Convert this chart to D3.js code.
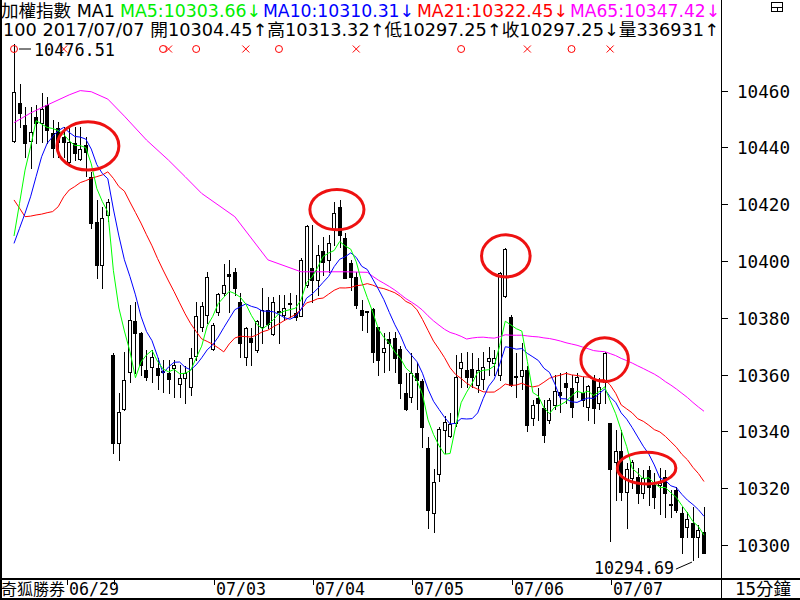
<!DOCTYPE html>
<html><head><meta charset="utf-8">
<script src="https://cdn.jsdelivr.net/npm/d3@7"></script>
<style>
body{margin:0;background:#fff}
svg{display:block}
text{font-family:"DejaVu Sans Mono","Noto Sans CJK TC",monospace;white-space:pre}
text.hdr{font-family:"DejaVu Sans","Noto Sans CJK TC",sans-serif}
</style>
</head><body>
<svg id="c" width="800" height="600"></svg>
<script>
// ---------- data (15-minute bars, 2017/06/29 - 2017/07/07) ----------
const opens = [
10442.3,10455.7,10447.9,10442.3,10450.8,10448.7,10454.9,10445.2,10446.9,10443.6,
10435.0,10441.4,10435.9,10440.8,10429.7,10413.8,10398.6,10416.2,10366.9,10335.8,
10347.8,10361.0,10378.9,10374.5,10361.6,10362.6,10362.2,10361.2,10360.5,10362.2,
10356.6,10358.7,10355.5,10366.5,10376.6,10381.0,10368.9,10382.2,10388.8,10395.3,
10396.0,10385.7,10366.3,10372.8,10368.7,10376.9,10382.7,10374.3,10382.5,10381.0,
10385.3,10381.6,10380.8,10391.5,10397.4,10393.3,10403.5,10400.4,10411.2,10419.1,
10408.0,10399.2,10394.5,10382.7,10382.3,10383.0,10376.7,10368.1,10372.4,10372.8,
10368.9,10353.4,10352.2,10360.5,10357.7,10334.0,10311.2,10324.9,10340.5,10338.4,
10342.9,10362.2,10361.5,10361.9,10356.3,10358.4,10364.9,10364.0,10359.9,10387.7,
10380.4,10359.5,10359.5,10361.6,10344.6,10351.6,10348.1,10344.0,10349.3,10354.0,
10356.9,10355.2,10357.5,10353.4,10348.5,10358.1,10349.9,10357.5,10342.9,10329.3,
10333.1,10318.5,10323.7,10324.0,10318.2,10326.4,10321.1,10321.0,10324.0,10314.3,
10319.4,10311.2,10306.4,10307.6,10302.9,10304.45];
const highs = [
10476.51,10462.3,10454.3,10454.3,10454.9,10459.0,10457.9,10449.6,10449.0,10447.3,
10446.7,10447.3,10447.3,10443.8,10431.4,10421.5,10419.1,10422.0,10367.5,10353.4,
10368.0,10384.5,10385.7,10375.0,10368.7,10368.7,10365.7,10365.1,10365.1,10365.1,
10363.4,10363.0,10369.3,10385.7,10385.5,10396.0,10378.0,10388.6,10398.9,10400.4,
10397.4,10388.6,10376.9,10376.3,10379.2,10390.4,10387.4,10387.4,10388.0,10388.0,
10388.6,10388.0,10400.9,10412.7,10412.7,10405.6,10408.6,10409.2,10420.9,10421.5,
10409.7,10400.4,10396.2,10386.3,10382.5,10383.5,10376.9,10374.5,10375.1,10375.1,
10370.0,10360.5,10367.7,10364.2,10358.5,10338.0,10326.7,10341.7,10345.4,10346.6,
10366.9,10367.5,10367.8,10367.5,10365.7,10368.0,10369.8,10368.7,10396.0,10404.5,
10381.0,10367.5,10371.0,10363.0,10351.1,10355.2,10351.1,10351.6,10359.9,10360.5,
10361.0,10359.9,10360.5,10359.3,10356.3,10359.9,10358.7,10368.0,10343.0,10340.5,
10340.5,10328.8,10330.0,10327.0,10326.4,10327.8,10325.2,10327.0,10326.4,10319.4,
10320.5,10313.5,10311.7,10313.5,10307.0,10313.32];
const lows = [
10441.8,10447.3,10436.7,10432.6,10441.4,10442.0,10441.4,10436.7,10436.7,10436.7,
10434.4,10435.6,10435.6,10430.0,10411.5,10394.1,10390.6,10414.0,10332.3,10329.9,
10347.5,10357.5,10360.5,10359.9,10358.1,10357.5,10354.8,10354.0,10353.4,10352.2,
10352.2,10350.1,10352.8,10365.1,10375.5,10378.0,10368.5,10381.0,10388.0,10382.2,
10388.0,10366.3,10363.4,10363.4,10368.1,10371.0,10376.3,10374.0,10371.0,10379.2,
10380.4,10379.2,10380.5,10391.0,10385.7,10388.0,10395.0,10396.2,10405.6,10405.0,
10394.0,10389.8,10383.3,10375.7,10375.1,10364.5,10360.0,10361.0,10361.6,10361.0,
10351.6,10347.5,10350.5,10347.8,10334.6,10305.9,10304.7,10322.6,10332.3,10338.0,
10342.0,10355.7,10355.7,10355.7,10354.0,10355.0,10360.0,10360.0,10358.0,10387.5,
10356.0,10352.2,10355.0,10340.0,10342.3,10344.0,10336.4,10343.0,10348.0,10347.0,
10350.0,10345.0,10352.0,10349.0,10344.0,10342.9,10348.0,10349.9,10301.5,10315.8,
10315.8,10305.9,10320.0,10314.7,10316.4,10314.1,10312.9,10311.0,10310.0,10310.0,
10311.7,10297.1,10302.9,10294.69,10295.9,10297.25];
const closes = [
10459.4,10452.0,10441.7,10445.5,10448.5,10453.4,10446.1,10439.7,10442.0,10441.9,
10442.0,10437.9,10439.3,10438.5,10413.3,10398.6,10415.0,10420.9,10335.8,10346.9,
10358.1,10379.2,10374.5,10363.4,10359.3,10366.3,10359.9,10361.0,10358.4,10363.4,
10358.9,10360.7,10365.7,10380.6,10384.2,10394.5,10377.5,10388.3,10391.5,10394.8,
10390.6,10371.0,10376.3,10371.6,10379.0,10382.7,10377.8,10385.7,10382.3,10383.3,
10385.3,10380.4,10400.4,10412.3,10393.3,10402.1,10399.8,10406.5,10416.8,10409.2,
10394.1,10394.2,10384.4,10380.9,10382.1,10368.1,10365.1,10369.3,10371.2,10366.0,
10357.1,10347.8,10360.7,10358.1,10341.4,10312.3,10322.1,10340.7,10343.4,10342.6,
10359.3,10364.5,10359.3,10359.3,10361.6,10362.8,10365.7,10365.7,10395.7,10404.1,
10356.3,10359.0,10361.5,10342.3,10349.3,10349.9,10338.7,10351.1,10354.3,10352.8,
10355.7,10348.7,10359.3,10351.1,10356.0,10348.1,10355.5,10367.7,10326.7,10333.2,
10318.8,10326.7,10329.3,10318.4,10323.5,10320.5,10317.0,10322.0,10318.2,10314.1,
10312.3,10302.9,10309.0,10302.9,10305.3,10297.25];

// moving-average values for bars before each average has a full window
const ma5Head  = [10408.8,10420.3,10432.0,10440.2];
const ma10Head = [10406.2,10411.5,10416.8,10422.6,10429.7,10436.7,10441.4,10443.8,10445.9];
const ma21Head = [10421.5,10418.6,10415.6,10415.8,10416.2,10416.5,10417.0,10417.4,10419.1,10422.6,
                  10425.0,10426.2,10427.6,10428.3,10429.1,10429.7,10430.3,10431.4,10429.1,10426.2];
const ma65HeadBars = [0,3,6,10,12,14,17,20,24,28,31,34,40,46,52,60];
const ma65HeadVals = [10448.7,10452.1,10454.9,10458.5,10460.0,10459.6,10457.0,10451.0,10442.6,10435.5,
                      10429.7,10423.8,10415.6,10400.4,10396.2,10396.2];

const dayLabels = ['06/29','06/30','07/03','07/04','07/05','07/06','07/07'];
const dayStartBar = [0,18,36,54,72,90,108];
const yTicks = [10300,10320,10340,10360,10380,10400,10420,10440,10460];

const buyBars  = [0,27,33,48,81,101];
const sellBars = [9,28,42,62,93,108];

// circled areas: centre bar, centre value, radius in bars, radius in points
const circleBar = [13.4,58.5,89.1,107.0,114.6];
const circleVal = [10440.5,10418.1,10401.8,10365.3,10327.1];
const circleRB  = [5.6,4.9,4.4,4.3,5.3];
const circleRV  = [8.5,7.1,7.4,7.7,5.6];

const header1 = [['加權指數 MA1','#000'],['MA5:10303.66↓','#00ee00'],['MA10:10310.31↓','#0000ff'],
                 ['MA21:10322.45↓','#ff0000'],['MA65:10347.42↓','#ff00ff']];
const header2 = '100 2017/07/07 開10304.45↑高10313.32↑低10297.25↑收10297.25↓量336931↑';
const maxLabel = '10476.51', minLabel = '10294.69';
const cornerLabel = '奇狐勝券', periodLabel = '15分鐘';

// ---------- drawing ----------
const svg = d3.select('#c');
const N = closes.length;
const x = d3.scaleBand().domain(d3.range(N)).range([11.24, 11.24 + N*5.52]).padding(0);
const cx = i => x(i) + x.bandwidth()/2;
const bx = b => x(0) + x.bandwidth()*(b + 0.5);   // fractional bar position
const y = d3.scaleLinear().domain([10300,10460]).range([545,90.6]);

const plot = svg.append('g');

// moving averages
function movingAvg(n, head){
  return closes.map((c,i)=> i < n-1 ? head[i] : d3.mean(closes.slice(i-n+1,i+1)));
}
const ma5 = movingAvg(5, ma5Head).map((v,i)=>[i,v]);
const ma10 = movingAvg(10, ma10Head).map((v,i)=>[i,v]);
const ma21 = movingAvg(21, ma21Head).map((v,i)=>[i,v]);
const ma65 = ma65HeadBars.map((b,k)=>[b,ma65HeadVals[k]])
  .concat(d3.range(64,N).map(i=>[i,d3.mean(closes.slice(i-64,i+1))]));
const line = d3.line().x(d=>cx(d[0])).y(d=>y(d[1]));

// candles
const candles = plot.append('g').attr('shape-rendering','crispEdges');
d3.range(N).forEach(i=>{
  const c = Math.round(cx(i));
  const o = opens[i], h = highs[i], l = lows[i], cl = closes[i];
  candles.append('line').attr('x1',c+0.5).attr('x2',c+0.5)
    .attr('y1',Math.round(y(h))).attr('y2',Math.round(y(l))+1)
    .attr('stroke','#000').attr('stroke-width',1);
  const top = Math.round(y(Math.max(o,cl))), bot = Math.round(y(Math.min(o,cl)));
  if (cl >= o) {
    candles.append('rect').attr('x',c-1.5).attr('y',top+0.5).attr('width',3).attr('height',Math.max(bot-top,1))
      .attr('fill','#fff').attr('stroke','#000').attr('stroke-width',1);
  } else {
    candles.append('rect').attr('x',c-2).attr('y',top).attr('width',4).attr('height',Math.max(bot-top,1)+1)
      .attr('fill','#000');
  }
});

[[ma65,'#ff00ff'],[ma21,'#ff0000'],[ma10,'#0000ff'],[ma5,'#00ff00']].forEach(([d,col])=>{
  plot.append('path').datum(d).attr('d',line).attr('fill','none').attr('stroke',col).attr('stroke-width',1);
});

// circled areas
circleBar.forEach((b,k)=>{
  plot.append('ellipse').attr('cx',bx(b)).attr('cy',y(circleVal[k]))
    .attr('rx',circleRB[k]*x.bandwidth()).attr('ry',y(10300)-y(10300+circleRV[k]))
    .attr('fill','none').attr('stroke','#ee1111').attr('stroke-width',3);
});

// signal markers
const sigY = 49;
buyBars.forEach(b=>{
  svg.append('circle').attr('cx',cx(b)).attr('cy',sigY).attr('r',3.5)
    .attr('fill','none').attr('stroke','#ff0000').attr('stroke-width',1);
});
sellBars.forEach(b=>{
  const c = cx(b);
  svg.append('path').attr('d',`M${c-3.5},${sigY-3.5}L${c+3.5},${sigY+3.5}M${c+3.5},${sigY-3.5}L${c-3.5},${sigY+3.5}`)
    .attr('stroke','#ff0000').attr('stroke-width',1);
});

// max annotation
svg.append('line').attr('x1',cx(0)+5).attr('x2',cx(0)+17).attr('y1',sigY).attr('y2',sigY).attr('stroke','#000');
svg.append('text').attr('x',cx(0)+20).attr('y',56).attr('font-size',18).attr('textLength',81).attr('lengthAdjust','spacingAndGlyphs').text(maxLabel);

// min annotation
const minBar = d3.minIndex(lows);
svg.append('line').attr('x1',cx(minBar)-1).attr('y1',y(lows[minBar])+2).attr('x2',cx(minBar)-17).attr('y2',y(lows[minBar])+9).attr('stroke','#000');
svg.append('text').attr('x',cx(minBar)-19).attr('y',574).attr('text-anchor','end').attr('font-size',18)
  .attr('textLength',80).attr('lengthAdjust','spacingAndGlyphs').text(minLabel);

// header
const segX = [1,120,263,417,570];
const segW = [114,141,151,151,150];
header1.forEach(([t,col],k)=>{
  svg.append('text').attr('class','hdr').attr('x',segX[k]).attr('y',17).attr('font-size',17).attr('fill',col)
    .attr('textLength',segW[k]).attr('lengthAdjust','spacingAndGlyphs').text(t);
});
svg.append('text').attr('class','hdr').attr('x',3).attr('y',36).attr('font-size',17).attr('textLength',716)
  .attr('lengthAdjust','spacingAndGlyphs').text(header2);

// frame
const frame = svg.append('g').attr('shape-rendering','crispEdges');
frame.append('rect').attr('x',0).attr('y',0).attr('width',2).attr('height',600).attr('fill','#000');
frame.append('rect').attr('x',721).attr('y',0).attr('width',1).attr('height',600).attr('fill','#000');
frame.append('rect').attr('x',0).attr('y',578).attr('width',800).attr('height',2).attr('fill','#000');
frame.append('rect').attr('x',0).attr('y',598).attr('width',800).attr('height',2).attr('fill','#000');

// window icon
frame.append('rect').attr('x',771.5).attr('y',2.5).attr('width',11).attr('height',9).attr('fill','none').attr('stroke','#000');
frame.append('line').attr('x1',771).attr('x2',783).attr('y1',7.5).attr('y2',7.5).attr('stroke','#000');
frame.append('line').attr('x1',777.5).attr('x2',777.5).attr('y1',7).attr('y2',12).attr('stroke','#000');

// y axis
yTicks.forEach(v=>{
  frame.append('line').attr('x1',722).attr('x2',728).attr('y1',Math.round(y(v))+0.5).attr('y2',Math.round(y(v))+0.5).attr('stroke','#000');
  svg.append('text').attr('x',737).attr('y',y(v)+7).attr('font-size',18).attr('textLength',53)
    .attr('lengthAdjust','spacingAndGlyphs').text(v);
});

// x axis
svg.append('text').attr('x',1).attr('y',595).attr('font-size',16).attr('textLength',64)
  .attr('lengthAdjust','spacingAndGlyphs').text(cornerLabel);
dayStartBar.forEach((b,k)=>{
  const tx = k===0 ? 67 : Math.round(cx(b)) + 1;
  frame.append('line').attr('x1',tx+0.5).attr('x2',tx+0.5).attr('y1',580).attr('y2',585).attr('stroke','#000');
  if (k===1) return;
  svg.append('text').attr('x',tx+2).attr('y',595).attr('font-size',18).attr('textLength',50)
    .attr('lengthAdjust','spacingAndGlyphs').text(dayLabels[k]);
});
svg.append('text').attr('x',735).attr('y',595).attr('font-size',17).attr('textLength',56)
  .attr('lengthAdjust','spacingAndGlyphs').text(periodLabel);
</script>
</body></html>
